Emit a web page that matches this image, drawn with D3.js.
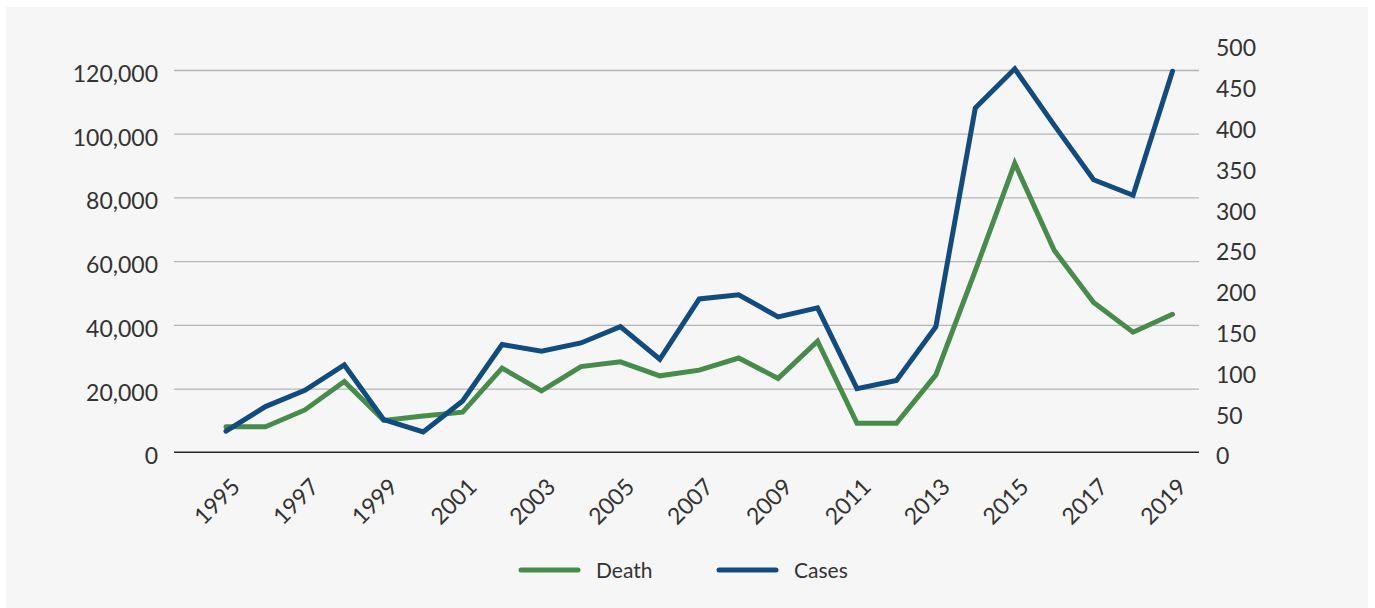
<!DOCTYPE html>
<html>
<head>
<meta charset="utf-8">
<script src="https://cdn.jsdelivr.net/npm/d3@7/dist/d3.min.js"></script>
<style>
  html, body { margin: 0; padding: 0; background: #ffffff; }
  svg { display: block; }
  text { font-family: Lato, "Open Sans", sans-serif; fill: #333333; }
</style>
</head>
<body>
<svg id="chart" width="1375" height="608"></svg>
<script>
// Yearly series
const years = [1995, 1996, 1997, 1998, 1999, 2000, 2001, 2002, 2003, 2004,
               2005, 2006, 2007, 2008, 2009, 2010, 2011, 2012, 2013, 2014,
               2015, 2016, 2017, 2018, 2019];
const death = [8000, 8000, 13300, 22200, 10000, 11400, 12600, 26400, 19300, 26900,
               28400, 24000, 25800, 29600, 23200, 34900, 9100, 9100, 24300, 57000,
               90700, 63400, 47000, 37700, 43300];
const cases = [26, 56, 76, 107, 40, 25, 63, 132, 124, 134,
               154, 114, 188, 193, 166, 177, 78, 88, 154, 422,
               470, 401, 334, 315, 467];

// Axis ticks
const leftTicks = [0, 20000, 40000, 60000, 80000, 100000, 120000];
const rightTicks = [0, 50, 100, 150, 200, 250, 300, 350, 400, 450, 500];
const xTickYears = [1995, 1997, 1999, 2001, 2003, 2005, 2007, 2009, 2011, 2013, 2015, 2017, 2019];
const seriesNames = ["Death", "Cases"];

const svg = d3.select("#chart");

// Layout
const plot = { left: 174, right: 1199, top: 44.3, bottom: 452.3 };
const colors = { Death: "#488c4b", Cases: "#114c80" };
const labelFont = "23px";

// Panel background
svg.append("rect")
  .attr("x", 6).attr("y", 7)
  .attr("width", 1362).attr("height", 601)
  .attr("fill", "#f6f6f6");

// Scales
const x = d3.scaleLinear().domain([1995, 2019]).range([226, 1172.5]);
const yLeft = d3.scaleLinear().domain([0, 128060]).range([plot.bottom, plot.top]);
const yRight = d3.scaleLinear().domain([0, 500]).range([plot.bottom, plot.top]);

// Horizontal gridlines
svg.append("g")
  .attr("transform", `translate(${plot.left},0)`)
  .call(d3.axisLeft(yLeft).tickValues(leftTicks.slice(1))
    .tickSize(-(plot.right - plot.left)).tickFormat(""))
  .call(g => g.select(".domain").remove())
  .call(g => g.selectAll("line").attr("stroke", "#b4b4b4").attr("stroke-width", 1.3));

// Baseline
svg.append("line")
  .attr("x1", plot.left).attr("x2", plot.right)
  .attr("y1", yLeft(0)).attr("y2", yLeft(0))
  .attr("stroke", "#262626").attr("stroke-width", 1.4);

// Left axis labels
svg.append("g")
  .attr("transform", `translate(${plot.left},0)`)
  .call(d3.axisLeft(yLeft).tickValues(leftTicks).tickSize(0).tickPadding(16)
    .tickFormat(d3.format(",")))
  .call(g => g.select(".domain").remove())
  .call(g => g.selectAll("text")
    .attr("dy", "0.5em")
    .style("font-size", labelFont).style("font-family", "Lato, sans-serif").attr("fill", "#333"));

// Right axis labels
svg.append("g")
  .attr("transform", `translate(${plot.right},0)`)
  .call(d3.axisRight(yRight).tickValues(rightTicks).tickSize(0).tickPadding(17))
  .call(g => g.select(".domain").remove())
  .call(g => g.selectAll("text")
    .attr("dy", "0.5em")
    .style("font-size", labelFont).style("font-family", "Lato, sans-serif").attr("fill", "#333"));

// Year labels, rotated
svg.append("g")
  .attr("transform", `translate(0,${plot.bottom})`)
  .call(d3.axisBottom(x).tickValues(xTickYears).tickSize(0).tickFormat(d3.format("d")))
  .call(g => g.select(".domain").remove())
  .call(g => g.selectAll("text")
    .attr("x", 0).attr("y", 0).attr("dy", 0)
    .attr("text-anchor", "end")
    .attr("transform", "translate(15,36) rotate(-45)")
    .style("font-size", labelFont).style("font-family", "Lato, sans-serif").attr("fill", "#333"));

// Lines
const deathLine = d3.line().x((d, i) => x(years[i])).y(d => yLeft(d));
const casesLine = d3.line().x((d, i) => x(years[i])).y(d => yRight(d));

svg.append("path")
  .datum(death)
  .attr("d", deathLine)
  .attr("fill", "none")
  .attr("stroke", colors.Death)
  .attr("stroke-width", 5)
  .attr("stroke-linejoin", "miter")
  .attr("stroke-linecap", "round");

svg.append("path")
  .datum(cases)
  .attr("d", casesLine)
  .attr("fill", "none")
  .attr("stroke", colors.Cases)
  .attr("stroke-width", 5)
  .attr("stroke-linejoin", "miter")
  .attr("stroke-linecap", "round");

// Legend
const legendItems = [
  { name: seriesNames[0], x0: 521 },
  { name: seriesNames[1], x0: 719 }
];
const legend = svg.append("g").attr("transform", "translate(0,570)");
legendItems.forEach(item => {
  legend.append("line")
    .attr("x1", item.x0).attr("x2", item.x0 + 57)
    .attr("y1", 0).attr("y2", 0)
    .attr("stroke", colors[item.name])
    .attr("stroke-width", 5)
    .attr("stroke-linecap", "round");
  legend.append("text")
    .attr("x", item.x0 + 75).attr("y", 7.5)
    .style("font-size", "21px")
    .text(item.name);
});
</script>
</body>
</html>
